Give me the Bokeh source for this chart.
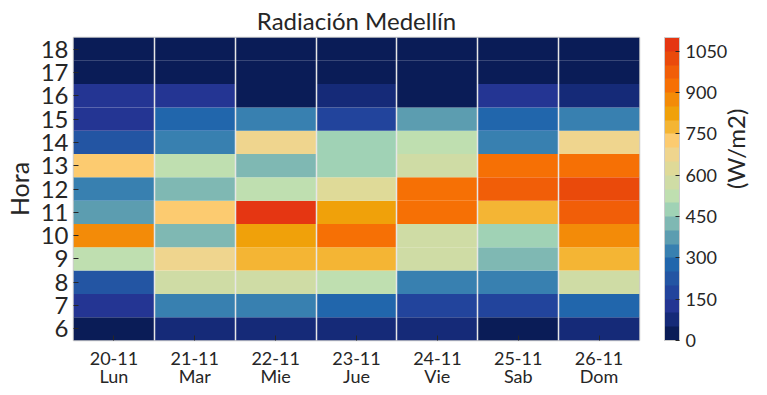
import math
from bokeh.plotting import figure
from bokeh.models import (LinearColorMapper, ColorBar, FixedTicker, LinearAxis,
                          ColumnDataSource, Range1d)
from bokeh.embed import file_html
from bokeh.resources import INLINE

# ---------------- data ----------------
dates = ["20-11", "21-11", "22-11", "23-11", "24-11", "25-11", "26-11"]
days = ["Lun", "Mar", "Mie", "Jue", "Vie", "Sab", "Dom"]
hours = [6, 7, 8, 9, 10, 11, 12, 13, 14, 15, 16, 17, 18]

# radiation (W/m2) per day, hours 6..18
lun = [25, 125, 225, 525, 875, 375, 325, 725, 225, 125, 125, 25, 25]
mar = [75, 325, 575, 675, 425, 725, 425, 525, 325, 275, 125, 25, 25]
mie = [75, 325, 575, 775, 825, 1075, 525, 425, 675, 325, 25, 25, 25]
jue = [75, 275, 525, 775, 925, 825, 625, 475, 475, 175, 75, 25, 25]
vie = [75, 175, 325, 575, 575, 925, 925, 575, 525, 375, 25, 25, 25]
sab = [25, 175, 325, 425, 475, 775, 975, 925, 325, 275, 125, 25, 25]
dom = [75, 275, 575, 775, 875, 975, 1025, 925, 675, 325, 75, 25, 25]
series = [lun, mar, mie, jue, vie, sab, dom]

cbar_ticks = [0, 150, 300, 450, 600, 750, 900, 1050]

palette = ["#0a1c57", "#152a78", "#243593", "#22449c", "#2355a3", "#2166ac",
           "#3880b0", "#5c9db0", "#7fb8b3", "#a0d2b5", "#bfdfb0", "#cfdca5",
           "#dfda98", "#efd58e", "#fccb70", "#f4b534", "#f0a10a", "#f38b08",
           "#f67005", "#f15e08", "#ea4a0b", "#e53612"]

# ---------------- table ----------------
xs, ys, vs = [], [], []
for i, vals in enumerate(series):
    for h, v in zip(hours, vals):
        xs.append(i)
        ys.append(h)
        vs.append(v)
src = ColumnDataSource(dict(x=xs, y=ys, v=vs))

TXT = "#262626"
FONT = "Lato"

p = figure(width=767, height=395, output_backend="svg", toolbar_location=None,
           x_range=Range1d(-0.5, 6.5), y_range=Range1d(5.5, 18.5),
           min_border_left=73, min_border_right=127, min_border_top=37,
           min_border_bottom=55)

mapper = LinearColorMapper(palette=palette, low=0, high=1100)
p.rect(x="x", y="y", width=1, height=1, source=src,
       fill_color={"field": "v", "transform": mapper}, line_color=None)

# title
p.title.text = "Radiación Medellín"
p.title.align = "center"
p.title.text_font = FONT
p.title.text_font_size = "24px"
p.title.text_font_style = "normal"
p.title.text_color = TXT
p.title.standoff = 5

# grid: only vertical separators between days
p.ygrid.grid_line_color = None
p.xgrid.ticker = FixedTicker(ticks=[0.5, 1.5, 2.5, 3.5, 4.5, 5.5])
p.xgrid.grid_line_color = "#e6e6e6"
p.xgrid.grid_line_width = 1.5
p.xgrid.level = "overlay"

p.outline_line_color = "#cccccc"
p.outline_line_width = 1.5

# x axis
p.xaxis.ticker = FixedTicker(ticks=list(range(len(dates))))
p.xaxis.major_label_overrides = {i: f"{d}\n{w}" for i, (d, w) in enumerate(zip(dates, days))}
p.xaxis.major_label_text_font = FONT
p.xaxis.major_label_text_font_size = "18px"
p.xaxis.major_label_text_line_height = 0.85
p.xaxis.major_label_text_color = TXT
p.xaxis.major_tick_in = 5
p.xaxis.major_tick_out = 0
p.xaxis.minor_tick_line_color = None
p.xaxis.axis_line_color = None
p.xaxis.major_tick_line_color = TXT
p.xaxis.major_label_standoff = 6

# y axis
p.yaxis.ticker = FixedTicker(ticks=hours)
p.yaxis.major_label_text_font = FONT
p.yaxis.major_label_text_font_size = "24px"
p.yaxis.major_label_text_color = TXT
p.yaxis.major_tick_in = 5
p.yaxis.major_tick_out = 0
p.yaxis.minor_tick_line_color = None
p.yaxis.axis_line_color = None
p.yaxis.major_tick_line_color = TXT
p.yaxis.major_label_standoff = 5
p.yaxis.axis_label = "Hora"
p.yaxis.axis_label_text_font = FONT
p.yaxis.axis_label_text_font_size = "25px"
p.yaxis.axis_label_text_font_style = "normal"
p.yaxis.axis_label_text_color = TXT
p.yaxis.axis_label_standoff = 4

# color bar
cb = ColorBar(color_mapper=mapper, ticker=FixedTicker(ticks=cbar_ticks),
              width=15, height=303, location=(25, 0), margin=0, padding=0,
              major_label_text_font=FONT, major_label_text_font_size="18px",
              major_label_text_color=TXT, label_standoff=6,
              major_tick_in=4, major_tick_out=0, major_tick_line_color=TXT,
              bar_line_color="#cccccc", bar_line_width=1,
              background_fill_color=None, border_line_color=None)
p.add_layout(cb, "right")

# unit label on the far right (axis used only for its label)
unit_axis = LinearAxis(ticker=FixedTicker(ticks=[]), axis_line_color=None,
                       major_tick_line_color=None, minor_tick_line_color=None,
                       major_tick_out=0, major_tick_in=0, major_label_standoff=0,
                       major_label_text_font_size="0px",
                       axis_label="(W/m2)", axis_label_text_font=FONT,
                       axis_label_text_font_size="24px",
                       axis_label_text_line_height=1.0,
                       axis_label_text_font_style="normal",
                       axis_label_text_color=TXT,
                       axis_label_orientation=math.pi / 2,
                       axis_label_standoff=5)
p.add_layout(unit_axis, "right")

open("out.html", "w").write(file_html(p, INLINE))
